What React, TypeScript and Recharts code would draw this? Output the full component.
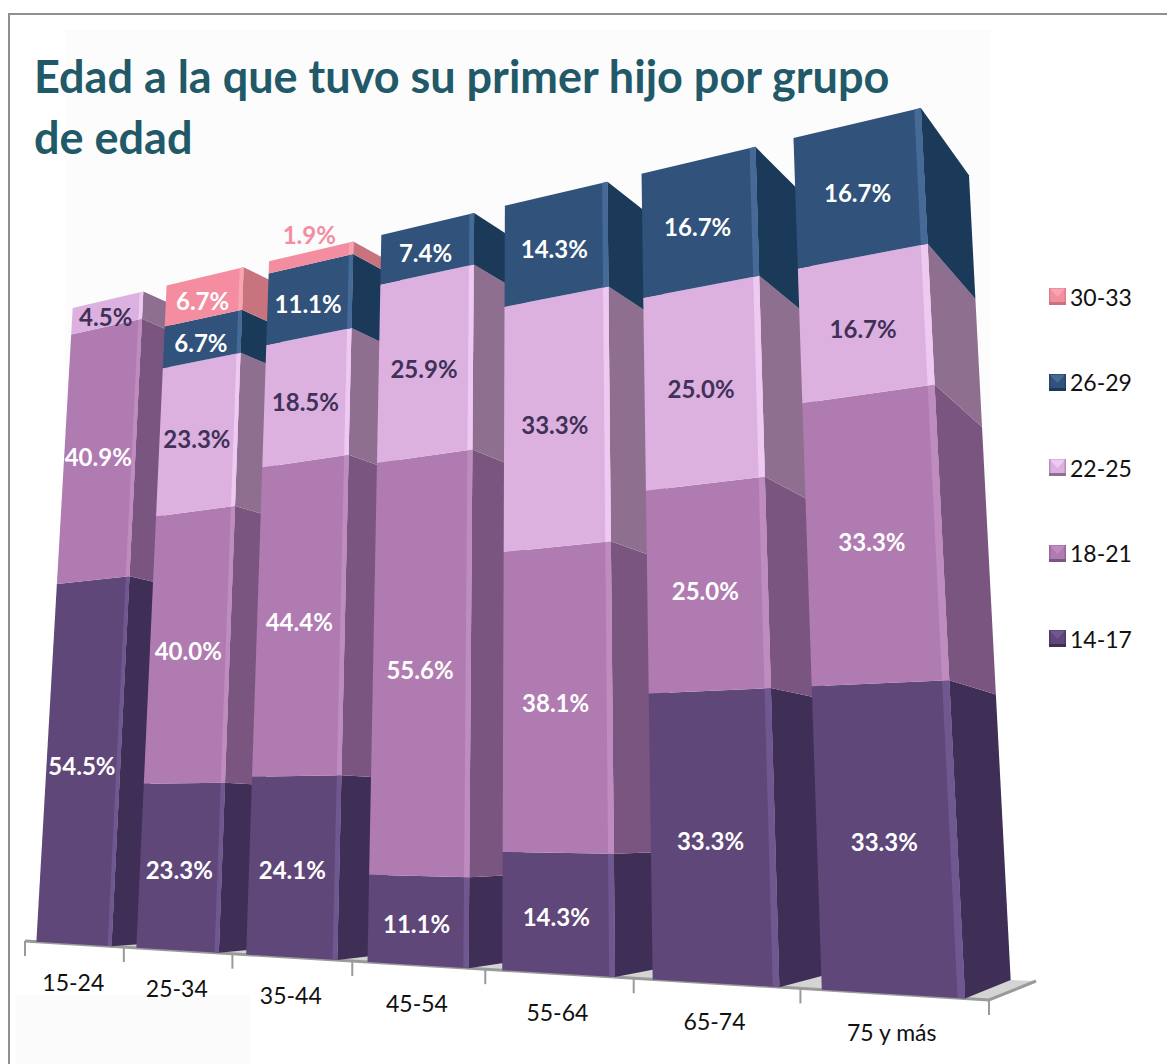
import React from 'react';
import { Bar, BarChart, Customized, LabelList, Legend, XAxis, YAxis } from 'recharts';

const categories = ['15-24', '25-34', '35-44', '45-54', '55-64', '65-74', '75 y más'];
const age1417 = [54.5, 23.3, 24.1, 11.1, 14.3, 33.3, 33.3];
const age1821 = [40.9, 40.0, 44.4, 55.6, 38.1, 25.0, 33.3];
const age2225 = [4.5, 23.3, 18.5, 25.9, 33.3, 25.0, 16.7];
const age2629 = [0, 6.7, 11.1, 7.4, 14.3, 16.7, 16.7];
const age3033 = [0, 6.7, 1.9, 0, 0, 0, 0];

const data = categories.map((name, i) => ({
  name,
  '14-17': age1417[i],
  '18-21': age1821[i],
  '22-25': age2225[i],
  '26-29': age2629[i],
  '30-33': age3033[i],
}));

const FONT = 'Lato, sans-serif';
const W = 1167;
const H = 1064;
const M = { top: 100, right: 100, bottom: 100, left: 100 };
const AXIS_H = 20;
const X0 = M.left;
const X1 = W - M.right;
const Y0 = M.top;
const Y1 = H - M.bottom - AXIS_H;

type Pt = [number, number];

// maps the flat plot rectangle onto a quad, that gives the perspective of the original 3D chart
const makeWarp = (q: Pt[]) => {
  const [[x0, y0], [x1, y1], [x2, y2], [x3, y3]] = q;
  const sx = x0 - x1 + x2 - x3;
  const sy = y0 - y1 + y2 - y3;
  const dx1 = x1 - x2;
  const dx2 = x3 - x2;
  const dy1 = y1 - y2;
  const dy2 = y3 - y2;
  const den = dx1 * dy2 - dx2 * dy1;
  const g = (sx * dy2 - dx2 * sy) / den;
  const h = (dx1 * sy - sx * dy1) / den;
  const a = x1 - x0 + g * x1;
  const b = x3 - x0 + h * x3;
  const d = y1 - y0 + g * y1;
  const e = y3 - y0 + h * y3;
  return (px: number, py: number): Pt => {
    const u = (px - X0) / (X1 - X0);
    const v = (Y1 - py) / (Y1 - Y0);
    const w = g * u + h * v + 1;
    return [(a * u + b * v + x0) / w, (d * u + e * v + y0) / w];
  };
};

const front = makeWarp([[25, 941], [989, 1000], [942, 103], [62, 310]]);
const back = makeWarp([[46, 940], [1033, 981], [989, 172], [83, 319]]);

const poly = (pts: Pt[]) => pts.map((p) => p.join(',')).join(' ');

const styles: Record<string, { face: string; side: string; edge: string; text: string }> = {
  '14-17': { face: '#5f4779', side: '#3f2f56', edge: '#6f5890', text: '#ffffff' },
  '18-21': { face: '#b07bb1', side: '#7a5580', edge: '#bf8cc0', text: '#ffffff' },
  '22-25': { face: '#dcb1e0', side: '#8f6f90', edge: '#eecaf3', text: '#3f3158' },
  '26-29': { face: '#30527b', side: '#1b3a59', edge: '#456a98', text: '#ffffff' },
  '30-33': { face: '#f38d9f', side: '#c9737f', edge: '#f7a5b3', text: '#ffffff' },
};

const seriesKeys = ['14-17', '18-21', '22-25', '26-29', '30-33'];
const legendKeys = ['30-33', '26-29', '22-25', '18-21', '14-17'];

// sides go in a first pass so the next column's front covers them
const BlockSide = (props: any) => {
  const { x, y, width, height, seriesKey } = props;
  if (!height || height <= 0) return null;
  const r = x + width;
  const b = y + height;
  return <polygon points={poly([front(r, b), back(r, b), back(r, y), front(r, y)])} fill={styles[seriesKey].side} />;
};

const BlockFront = (props: any) => {
  const { x, y, width, height, seriesKey } = props;
  if (!height || height <= 0) return null;
  const s = styles[seriesKey];
  const r = x + width;
  const b = y + height;
  const strip = width * 0.05;
  return (
    <g>
      <polygon points={poly([front(x, b), front(r, b), front(r, y), front(x, y)])} fill={s.face} />
      <polygon points={poly([front(r - strip, b), front(r, b), front(r, y), front(r - strip, y)])} fill={s.edge} />
    </g>
  );
};

const blockLabel = (key: string) => (props: any) => {
  const { x, y, width, height, value } = props;
  if (!value) return null;
  const mid = x + width / 2;
  const top = front(mid, y);
  const bottom = front(mid, y + height);
  const small = value < 3; // too thin, goes above the block in the series colour
  return (
    <text
      x={(top[0] + bottom[0]) / 2 - 1}
      y={small ? top[1] - 17 : (top[1] + bottom[1]) / 2 + 3}
      textAnchor="middle"
      dominantBaseline="central"
      fontFamily={FONT}
      fontWeight={700}
      fontSize={24}
      fill={small ? styles[key].face : styles[key].text}
    >
      {value.toFixed(1)}%
    </text>
  );
};

const slot = (X1 - X0) / categories.length;

const AxisTick = (props: any) => {
  const { x, payload, index } = props;
  const [lx, ly] = front(x, Y1);
  const left = front(x - slot / 2, Y1);
  const right = front(x + slot / 2, Y1);
  return (
    <g>
      <line x1={left[0]} y1={left[1]} x2={left[0]} y2={left[1] + 15} stroke="#9a9a9a" strokeWidth={2} />
      {index === categories.length - 1 && (
        <line x1={right[0]} y1={right[1]} x2={right[0]} y2={right[1] + 15} stroke="#9a9a9a" strokeWidth={2} />
      )}
      <text x={lx} y={ly + 38} textAnchor="middle" dominantBaseline="central" fontFamily={FONT} fontSize={23} fill="#111111">
        {payload.value}
      </text>
    </g>
  );
};

const Floor = () => {
  const a = front(X0, Y1);
  const b = front(X1, Y1);
  const tip: Pt = [1036, 981];
  const c: Pt = [46, 940];
  return (
    <g>
      <polygon points={poly([a, b, tip, c])} fill="#d4d4d4" />
      <polyline points={poly([a, b, tip])} fill="none" stroke="#9a9a9a" strokeWidth={3} />
    </g>
  );
};

const Swatch = ({ k }: { k: string }) => {
  const s = styles[k];
  return (
    <svg width={17} height={17} style={{ display: 'block' }}>
      <rect width={17} height={17} fill={s.face} />
      <polygon points="1,1 16,1 8.5,9" fill={s.edge} />
      <rect y={14} width={17} height={3} fill={s.side} />
      <rect x={0} width={1.5} height={17} fill={s.side} opacity={0.5} />
      <rect x={15.5} width={1.5} height={17} fill={s.side} opacity={0.5} />
    </svg>
  );
};

const LegendBox = () => (
  <div>
    {legendKeys.map((k) => (
      <div key={k} style={{ display: 'flex', alignItems: 'center', height: 85.5, gap: 4, fontFamily: FONT, fontSize: 23, color: '#111111' }}>
        <Swatch k={k} />
        <span>{k}</span>
      </div>
    ))}
  </div>
);

export default function App() {
  return (
    <div style={{ position: 'absolute', left: 0, top: 0, width: W, height: H, background: '#ffffff', overflow: 'hidden' }}>
      <div style={{ position: 'absolute', left: 65, top: 30, width: 925, height: 480, background: '#fcfcfc' }} />
      <div style={{ position: 'absolute', left: 15, top: 995, width: 235, height: 69, background: '#fbfbfb' }} />
      <div style={{ position: 'absolute', left: 8, top: 13, width: W, height: H, borderLeft: '2px solid #8f8f8f', borderTop: '2px solid #8f8f8f' }} />
      <div
        style={{
          position: 'absolute',
          left: 34,
          top: 46,
          width: 900,
          fontFamily: FONT,
          fontWeight: 700,
          fontSize: 45,
          lineHeight: '61px',
          color: '#215968',
        }}
      >
        Edad a la que tuvo su primer hijo por grupo
        <br />
        de edad
      </div>
      <div style={{ position: 'absolute', left: 0, top: 0 }}>
        <BarChart width={W} height={H} data={data} margin={M} barCategoryGap="12%">
          <Customized component={<Floor />} />
          <XAxis dataKey="name" height={AXIS_H} axisLine={false} tickLine={false} tick={<AxisTick />} interval={0} />
          <XAxis dataKey="name" xAxisId="side" hide />
          <YAxis hide domain={[0, 100]} />
          <YAxis yAxisId="side" hide domain={[0, 100]} />
          <Legend
            layout="vertical"
            content={<LegendBox />}
            wrapperStyle={{ position: 'absolute', left: 1049, top: 254, width: 110, height: 0, bottom: 'auto', right: 'auto' }}
          />
          {seriesKeys.map((k) => (
            <Bar
              key={`side-${k}`}
              dataKey={k}
              xAxisId="side"
              yAxisId="side"
              stackId="side"
              fill={styles[k].side}
              shape={<BlockSide seriesKey={k} />}
              isAnimationActive={false}
            />
          ))}
          {seriesKeys.map((k) => (
            <Bar key={k} dataKey={k} stackId="a" fill={styles[k].face} shape={<BlockFront seriesKey={k} />} isAnimationActive={false}>
              <LabelList dataKey={k} content={blockLabel(k)} />
            </Bar>
          ))}
        </BarChart>
      </div>
    </div>
  );
}
